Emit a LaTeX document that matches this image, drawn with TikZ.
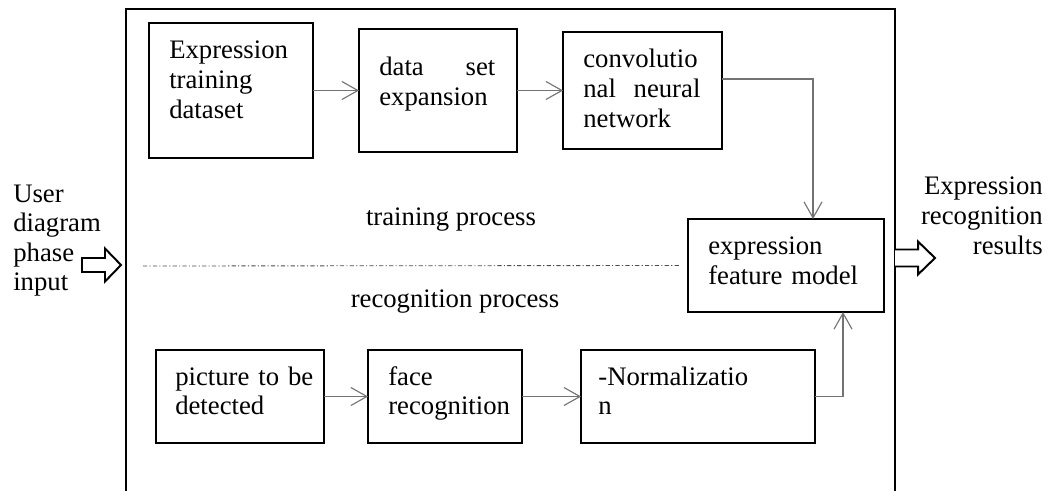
\documentclass[tikz,border=0pt]{standalone}
\usepackage{fontspec}
\setmainfont{Liberation Serif}
\usetikzlibrary{arrows.meta, positioning}

\begin{document}
\begin{tikzpicture}[
    x=0.025cm, y=-0.025cm,
    box/.style={rectangle, draw=black, line width=1.6pt, outer sep=0pt, minimum height=2.325cm},
    txt/.style={inner sep=0pt, text width=4cm, align=left, anchor=base west, font=\fontsize{19}{21}\selectfont},
    arrow/.style={-{Straight Barb[length=0.4cm, width=0.45cm]}, line width=0.8pt, black!55},
    divider/.style={black!70, line width=0.6pt, dash pattern=on 3pt off 1.6pt on 0.8pt off 1.6pt},
    hollow/.style={draw=black, line width=1.4pt, fill=white, line join=miter}
]

\useasboundingbox (0,0) rectangle (1049,491);

% Frame
\draw[line width=1.7pt, line join=miter] (126,500) -- (126,9) -- (895,9) -- (895,500);

% Training row
\node[box, minimum width=4.1cm, minimum height=3.375cm] (train) at (231,90.5) {};
\node[box, right=1.15cm of train, minimum width=3.95cm, minimum height=3.075cm] (expand) {};
\node[box, right=1.15cm of expand, minimum width=3.975cm, minimum height=2.925cm] (cnn) {};
\node[box, minimum width=4.9cm] (model) at (786,265.5) {};

% Recognition row
\node[box, minimum width=4.2cm] (picture) at (240,396.5) {};
\node[box, right=1.1cm of picture, minimum width=3.85cm] (face) {};
\node[box, right=1.475cm of face, minimum width=5.85cm] (norm) {};

% Box texts
\node[txt] (train-t) at ([shift={(0.5cm,-0.9cm)}]train.north west) {Expression\\training\\dataset};
\node[txt, text width=2.9cm] (expand-t) at ([shift={(0.5cm,-1.175cm)}]expand.north west) {data\hfill set\\expansion};
\node[txt, text width=2.925cm] (cnn-t) at ([shift={(0.5cm,-0.9cm)}]cnn.north west) {convolutio\\nal\hfill neural\\network};
\node[txt] (model-t) at ([shift={(0.5cm,-0.9cm)}]model.north west) {expression\\feature model};
\node[txt] (picture-t) at ([shift={(0.475cm,-0.875cm)}]picture.north west) {picture to be\\detected};
\node[txt] (face-t) at ([shift={(0.5cm,-0.875cm)}]face.north west) {face\\recognition};
\node[txt] (norm-t) at ([shift={(0.425cm,-0.875cm)}]norm.north west) {-Normalizatio\\n};

% Outside texts
\node[txt, text width=3cm] (user) at (13,202) {User\\diagram\\phase\\input};
\node[txt, text width=3.2cm, align=right, anchor=base east] (result) at (1043,195) {Expression\\recognition\\results};

% Process labels
\node[txt, text width=, align=center, anchor=base] (trainproc) at (451,226) {training process};
\node[txt, text width=, align=center, anchor=base] (recproc) at (455,307) {recognition process};

% Divider
\coordinate (divstart) at (143,266);
\draw[divider] (divstart) -- ([xshift=-0.2cm]model.west);

% Input and output arrows
\draw[hollow] (82,258) -- (105,258) -- (105,248.5) -- (121,265) -- (105,281.5) -- (105,272) -- (82,272) -- cycle;
\draw[hollow] (895,249.5) -- (918,249.5) -- (918,241.5) -- (935,258) -- (918,274.5) -- (918,266.5) -- (895,266.5);

% Arrows
\draw[arrow] (train) -- (expand);
\draw[arrow] (expand) -- (cnn);
\draw[arrow] ([yshift=0.2875cm]cnn.east) -| ([xshift=0.675cm]model.north);
\draw[arrow] (picture) -- (face);
\draw[arrow] (face) -- (norm);
\draw[arrow] (norm.east) -| ([xshift=1.425cm]model.south);

\end{tikzpicture}
\end{document}
